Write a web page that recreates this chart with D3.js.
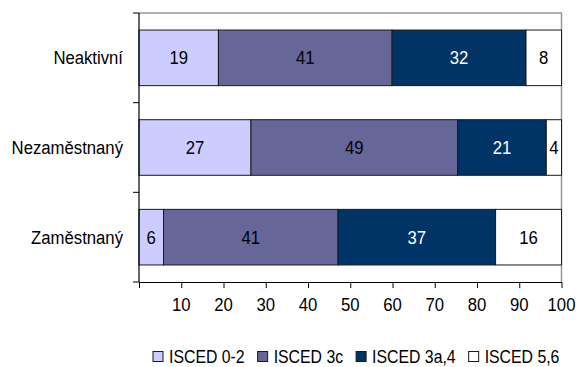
<!DOCTYPE html>
<html><head><meta charset="utf-8">
<script src="https://cdn.jsdelivr.net/npm/d3@7"></script>
<style>
html,body{margin:0;padding:0;background:#fff;}
svg{display:block;font-family:"Liberation Sans",Arial,sans-serif;}
</style></head>
<body><svg id="c" width="576" height="367"></svg>
<script>
const categories = ["Neaktivní", "Nezaměstnaný", "Zaměstnaný"];
const seriesNames = ["ISCED 0-2", "ISCED 3c", "ISCED 3a,4", "ISCED 5,6"];
const isced02  = [18.8, 26.5, 5.8];
const isced3c  = [41.1, 48.9, 41.3];
const isced3a4 = [31.7, 21.0, 37.3];
const isced56  = [8.4, 3.6, 15.6];
const xTicks = [10, 20, 30, 40, 50, 60, 70, 80, 90, 100];
const colors = ["#CCCCFF", "#666699", "#003366", "#FFFFFF"];
const labelColors = ["#000", "#000", "#fff", "#000"];

const SX = 0.88;
const seriesValues = [isced02, isced3c, isced3a4, isced56];
const rows = categories.map((c, i) => {
  const r = {cat: c};
  seriesNames.forEach((s, j) => r[s] = seriesValues[j][i]);
  return r;
});
const stacked = d3.stack().keys(seriesNames)(rows);

const svg = d3.select("#c");
const L = 139, R = 561.5, T = 13, B = 282;
const x = d3.scaleLinear().domain([0, 100]).range([L, R]);
const y = d3.scaleBand().domain(categories).range([T, B]).paddingInner(0.38).paddingOuter(0.19);

function txt(sel, px, py, str, size, anchor, fill) {
  return sel.append("text")
    .attr("transform", `translate(${px},${py}) scale(${SX},1)`)
    .attr("dy", "0.35em")
    .attr("text-anchor", anchor)
    .attr("font-size", size)
    .attr("fill", fill)
    .text(str);
}

// plot border (gray top/right)
svg.append("path")
  .attr("d", `M${L},${T}H${R}V${B}`)
  .attr("fill", "none").attr("stroke", "#999").attr("stroke-width", 1.5);

// bars
const g = svg.append("g");
stacked.forEach((layer, j) => {
  g.selectAll(null).data(layer).join("rect")
    .attr("x", d => x(d[0]))
    .attr("y", d => y(d.data.cat))
    .attr("width", d => x(d[1]) - x(d[0]))
    .attr("height", y.bandwidth())
    .attr("fill", colors[j])
    .attr("stroke", "#1a1a1a").attr("stroke-width", 1);
});
stacked.forEach((layer, j) => {
  layer.forEach(d => {
    txt(g, (x(d[0]) + x(d[1])) / 2, y(d.data.cat) + y.bandwidth() / 2,
        Math.round(d[1] - d[0]), 19, "middle", labelColors[j]);
  });
});

// y axis
const yAxis = svg.append("g");
yAxis.append("line").attr("x1", L).attr("x2", L).attr("y1", T).attr("y2", B)
  .attr("stroke", "#000").attr("stroke-width", 1.2);
const bounds = d3.range(categories.length + 1).map(i => T + i * y.step());
yAxis.selectAll(null).data(bounds).join("line")
  .attr("x1", L - 6).attr("x2", L).attr("y1", d => d).attr("y2", d => d)
  .attr("stroke", "#000").attr("stroke-width", 1);
categories.forEach(c => {
  txt(yAxis, 123, y(c) + y.bandwidth() / 2, c, 19, "end", "#000");
});

// x axis
const xAxis = svg.append("g").attr("transform", `translate(0,${B})`)
  .call(d3.axisBottom(x).tickValues([0].concat(xTicks)).tickSize(6).tickSizeOuter(0)
    .tickFormat(d => d === 0 ? "" : d));
xAxis.select(".domain").attr("stroke", "#000").attr("stroke-width", 1.2);
xAxis.selectAll(".tick line").attr("stroke", "#000");
xAxis.selectAll(".tick text").remove();
xTicks.forEach(v => txt(xAxis, x(v), 22.5, v, 19, "middle", "#000"));

// legend
const lg = svg.append("g");
let lx = 153;
const ly = 357;
seriesNames.forEach((s, j) => {
  lg.append("rect").attr("x", lx).attr("y", ly - 5.5).attr("width", 10).attr("height", 10)
    .attr("fill", colors[j]).attr("stroke", "#1a1a1a").attr("stroke-width", 1);
  const t = txt(lg, lx + 16, ly, s, 18, "start", "#000");
  lx += 16 + t.node().getComputedTextLength() * SX + 13;
});
</script></body></html>
